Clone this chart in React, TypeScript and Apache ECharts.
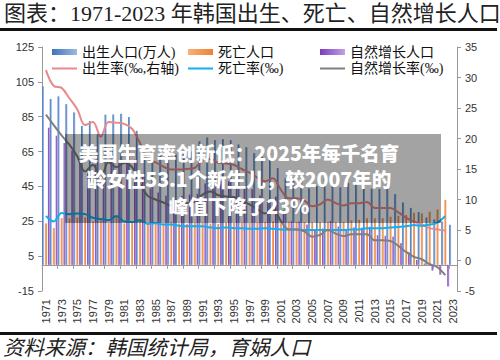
import React, { useEffect, useRef } from "react";
import * as echarts from "echarts";

const years = [
  "1971","1972","1973","1974","1975","1976","1977","1978","1979","1980",
  "1981","1982","1983","1984","1985","1986","1987","1988","1989","1990",
  "1991","1992","1993","1994","1995","1996","1997","1998","1999","2000",
  "2001","2002","2003","2004","2005","2006","2007","2008","2009","2010",
  "2011","2012","2013","2014","2015","2016","2017","2018","2019","2020",
  "2021","2022","2023",
];

const births = [
  102.5, 95.2, 96.7, 92.2, 87.5, 79.7, 82.5, 75.0, 86.2, 86.3,
  86.7, 84.8, 76.9, 67.5, 65.5, 63.6, 62.4, 63.3, 63.9, 65.0,
  70.9, 73.1, 71.6, 72.1, 71.5, 69.1, 67.5, 64.1, 62.0, 64.0,
  55.5, 49.7, 49.5, 47.7, 43.9, 45.2, 49.7, 46.6, 44.5, 47.0,
  47.1, 48.5, 43.7, 43.5, 43.8, 40.6, 35.8, 32.7, 30.3, 27.2,
  26.1, 24.9, 23.0,
];

const deaths = [
  23.8, 21.1, 26.8, 26.6, 27.1, 27.2, 24.9, 25.6, 24.0, 27.8,
  23.8, 24.5, 25.4, 23.6, 24.0, 23.9, 24.5, 23.8, 23.6, 24.2,
  24.2, 23.7, 23.5, 24.2, 24.0, 24.2, 24.1, 24.3, 24.6, 24.9,
  24.3, 24.7, 24.6, 24.6, 24.4, 24.4, 24.5, 24.6, 24.7, 25.5,
  25.8, 26.7, 26.7, 26.8, 27.6, 28.1, 28.6, 29.9, 29.5, 30.5,
  31.8, 37.3, null,
];

const naturalIncrease = [
  78.7, 74.1, 69.9, 65.6, 60.4, 52.5, 57.6, 49.4, 62.2, 58.5,
  62.9, 60.3, 51.5, 43.9, 41.5, 39.7, 37.9, 39.5, 40.3, 40.8,
  46.7, 49.4, 48.1, 47.9, 47.5, 44.9, 43.4, 39.8, 37.4, 39.1,
  31.2, 25.0, 24.9, 23.1, 19.5, 20.8, 25.2, 22.0, 19.8, 21.5,
  21.3, 21.8, 17.0, 16.7, 16.2, 12.5, 7.2, 2.8, 0.8, -3.3,
  -5.7, -12.4, null,
];

const birthRate = [
  31.2, 28.6, 28.3, 26.6, 24.8, 22.2, 22.7, 20.3, 22.7, 22.6,
  22.4, 21.6, 19.3, 16.6, 16.1, 15.4, 14.9, 14.9, 15.0, 15.2,
  16.4, 16.7, 16.0, 15.9, 15.7, 15.0, 14.4, 13.6, 13.0, 13.5,
  11.6, 10.2, 10.2, 9.8, 8.9, 9.2, 10.0, 9.4, 9.0, 9.4,
  9.4, 9.6, 8.6, 8.6, 8.6, 7.9, 7.0, 6.4, 5.9, 5.3,
  5.1, 4.9, null,
];

const deathRate = [
  7.3, 6.4, 7.8, 7.6, 7.7, 7.6, 7.0, 6.8, 6.6, 7.3,
  6.4, 6.3, 6.6, 6.0, 6.1, 5.9, 5.9, 5.7, 5.6, 5.6,
  5.6, 5.4, 5.3, 5.4, 5.3, 5.3, 5.2, 5.2, 5.3, 5.2,
  5.1, 5.1, 5.1, 5.0, 5.0, 5.0, 5.0, 5.0, 5.0, 5.1,
  5.1, 5.3, 5.3, 5.3, 5.4, 5.5, 5.6, 5.8, 5.7, 5.9,
  6.2, 7.3, null,
];

const naturalRate = [
  23.9, 22.2, 20.5, 19.0, 17.1, 14.6, 15.7, 13.5, 16.1, 15.3,
  16.0, 15.3, 12.7, 10.6, 10.0, 9.5, 9.0, 9.2, 9.4, 9.6,
  10.8, 11.3, 10.7, 10.5, 10.4, 9.7, 9.2, 8.4, 7.7, 8.3,
  6.5, 5.1, 5.1, 4.8, 3.9, 4.2, 5.0, 4.4, 4.0, 4.3,
  4.3, 4.3, 3.3, 3.3, 3.2, 2.4, 1.4, 0.6, 0.2, -0.6,
  -1.1, -2.4, null,
];

const titleText = "图表：1971-2023 年韩国出生、死亡、自然增长人口";
const sourceText = "资料来源：韩国统计局，育娲人口";
const overlayLines = [
  "美国生育率创新低：2025年每千名育",
  "龄女性53.1个新生儿，较2007年的",
  "峰值下降了23%",
];

const grad = (a: string, b: string) =>
  new echarts.graphic.LinearGradient(0, 0, 1, 0, [
    { offset: 0, color: a },
    { offset: 1, color: b },
  ]);

const serif = "'Liberation Serif','DejaVu Serif','Noto Sans CJK SC',serif";
const sans = "'Liberation Sans','Noto Sans CJK SC',sans-serif";
const lineIcon = "path://M0,0 L50,0 L50,4 L0,4 Z";

export default function App() {
  const ref = useRef<HTMLDivElement>(null);
  useEffect(() => {
    if (!ref.current) return;
    const chart = echarts.init(ref.current, null, { renderer: "svg" });
    const legendText = { fontFamily: serif, fontSize: 14, color: "#111", lineHeight: 14 };
    const legendBase = {
      orient: "vertical" as const,
      top: 40,
      itemGap: 2.5,
      itemWidth: 25,
      itemHeight: 6,
      textStyle: legendText,
    };
    chart.setOption({
      animation: false,
      backgroundColor: "#ffffff",
      grid: { left: 42, right: 43, top: 47, bottom: 69 },
      legend: [
        { ...legendBase, left: 47, data: [{ name: "出生人口(万人)", icon: "rect" }, { name: "出生率(‰,右轴)", icon: lineIcon }] },
        { ...legendBase, left: 183, data: [{ name: "死亡人口", icon: "rect" }, { name: "死亡率(‰)", icon: lineIcon }] },
        { ...legendBase, left: 315, data: [{ name: "自然增长人口", icon: "rect" }, { name: "自然增长率(‰)", icon: lineIcon }] },
      ],
      xAxis: [
        {
          type: "category",
          data: years,
          position: "bottom",
          axisLine: { show: false, onZero: false },
          axisTick: { show: false },
          axisLabel: {
            interval: 1,
            rotate: 90,
            fontFamily: sans,
            fontSize: 11,
            color: "#333",
            margin: 8,
          },
        },
        {
          type: "category",
          data: years,
          position: "bottom",
          axisLine: { show: true, onZero: true, onZeroAxisIndex: 0, lineStyle: { color: "#999", width: 1 } },
          axisTick: { show: true, interval: 1, length: 4, lineStyle: { color: "#999" } },
          axisLabel: { show: false },
        },
      ],
      yAxis: [
        {
          type: "value",
          min: -15,
          max: 125,
          interval: 20,
          splitLine: { show: false },
          axisLine: { show: true, lineStyle: { color: "#999" } },
          axisTick: { show: true, length: 4, lineStyle: { color: "#999" } },
          axisLabel: { fontFamily: sans, fontSize: 11, color: "#333", margin: 8 },
        },
        {
          type: "value",
          min: -5,
          max: 35,
          interval: 5,
          position: "right",
          splitLine: { show: false },
          axisLine: { show: true, lineStyle: { color: "#999" } },
          axisTick: { show: true, length: 4, lineStyle: { color: "#999" } },
          axisLabel: { fontFamily: sans, fontSize: 11, color: "#333", margin: 8 },
        },
      ],
      series: [
        {
          name: "出生人口(万人)",
          type: "bar",
          data: births,
          barWidth: 2,
          barGap: "50%",
          itemStyle: { color: grad("#3f73b8", "#9dbbe2") },
        },
        {
          name: "死亡人口",
          type: "bar",
          data: deaths,
          barWidth: 2,
          barGap: "50%",
          itemStyle: { color: grad("#f8b07a", "#ec8236") },
        },
        {
          name: "自然增长人口",
          type: "bar",
          data: naturalIncrease,
          barWidth: 2,
          barGap: "50%",
          itemStyle: { color: grad("#7a3cb8", "#c2a2e6") },
        },
        {
          name: "出生率(‰,右轴)",
          type: "line",
          yAxisIndex: 1,
          data: birthRate,
          symbol: "none",
          smooth: 0.35,
          lineStyle: { color: "#e88a8c", width: 2 },
          itemStyle: { color: "#e88a8c" },
        },
        {
          name: "死亡率(‰)",
          type: "line",
          yAxisIndex: 1,
          data: deathRate,
          symbol: "none",
          smooth: 0.35,
          lineStyle: { color: "#12aef0", width: 2 },
          itemStyle: { color: "#12aef0" },
        },
        {
          name: "自然增长率(‰)",
          type: "line",
          yAxisIndex: 1,
          data: naturalRate,
          symbol: "none",
          smooth: 0.35,
          lineStyle: { color: "#7f7f7f", width: 2 },
          itemStyle: { color: "#7f7f7f" },
        },
      ],
      graphic: [
        {
          type: "text",
          x: 4,
          y: 2,
          z: 100,
          style: {
            text: titleText,
            fontFamily: serif,
            fontSize: 22,
            fill: "#222",
          },
        },
        { type: "rect", z: 100, shape: { x: 0, y: 28, width: 497, height: 3 }, style: { fill: "#111" } },
        { type: "rect", z: 100, shape: { x: 0, y: 332, width: 497, height: 3 }, style: { fill: "#111" } },
        {
          type: "text",
          x: 3,
          y: 338,
          z: 100,
          style: {
            text: sourceText,
            fontFamily: serif,
            fontStyle: "italic",
            fontSize: 20.5,
            fill: "#222",
          },
        },
        {
          type: "rect",
          z: 200,
          shape: { x: 65, y: 134, width: 376, height: 89 },
          style: { fill: "rgba(0,0,0,0.36)" },
        },
        ...overlayLines.map((t, i) => ({
          type: "text",
          z: 201,
          x: 239,
          y: 152 + i * 26.5,
          style: {
            text: t,
            textAlign: "center",
            textVerticalAlign: "middle",
            fontFamily: "'Noto Sans CJK SC',sans-serif",
            fontWeight: 900,
            fontSize: 19.5,
            fill: "#ffffff",
          },
        })),
      ],
    });
    return () => chart.dispose();
  }, []);
  return (
    <div
      ref={ref}
      style={{ position: "fixed", left: 0, top: 0, width: 500, height: 360, background: "#fff" }}
    />
  );
}
